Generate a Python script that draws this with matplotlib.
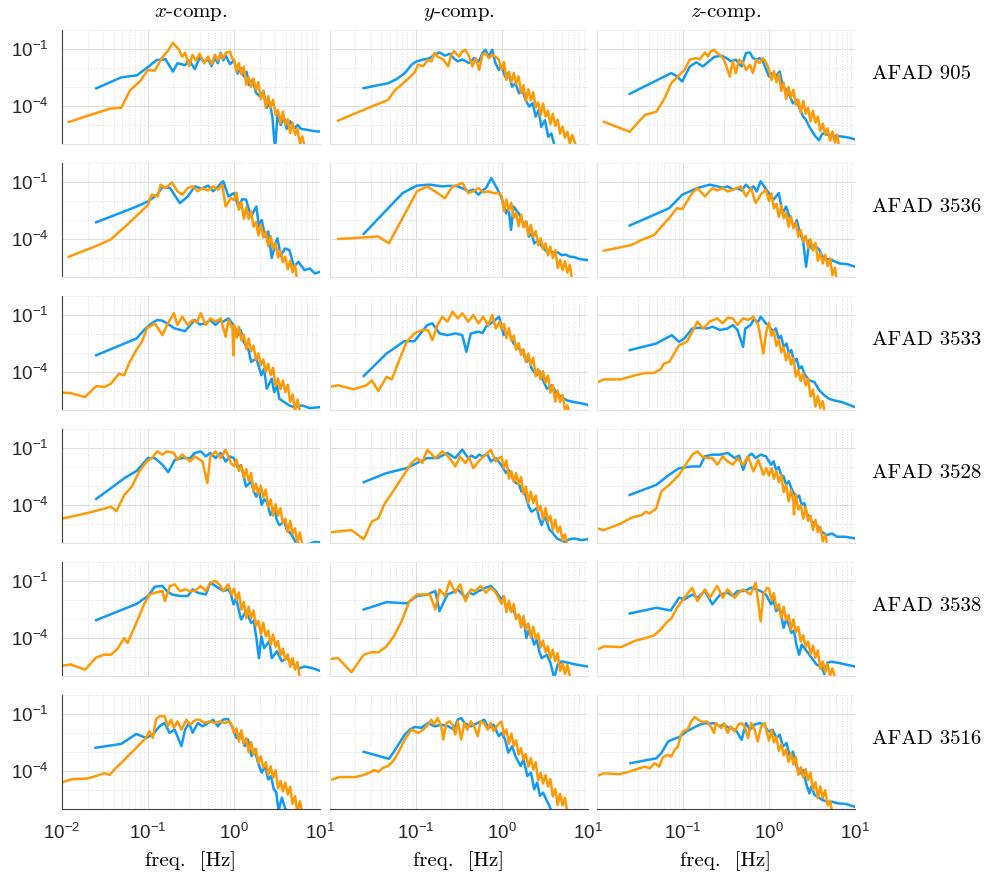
import numpy as np
import matplotlib.pyplot as plt
from matplotlib.ticker import FixedLocator, LogLocator, NullFormatter

plt.rcParams['font.family'] = ['Liberation Sans', 'DejaVu Sans']

BLUE = '#0f9af5'
ORANGE = '#ff9a05'
SERIF = 'cmr10'

stations = ["AFAD 905", "AFAD 3536", "AFAD 3533", "AFAD 3528", "AFAD 3538", "AFAD 3516"]
components = ["x", "y", "z"]
y_ticks = [1e-4, 1e-1]
y_tick_labels = [r'$\mathdefault{10^{-4}}$', r'$\mathdefault{10^{-1}}$']
x_ticks = [1e-2, 1e-1, 1e0, 1e1]
x_tick_labels = [r'$\mathdefault{10^{-2}}$', r'$\mathdefault{10^{-1}}$',
                 r'$\mathdefault{10^{0}}$', r'$\mathdefault{10^{1}}$']

# amplitude spectra as (frequency [Hz], log10 amplitude) pairs
# b_* : blue record, o_* : orange record
b_905_x = [(0.025,-3.07),(0.049,-2.49),(0.074,-2.39),(0.1,-1.95),(0.126,-1.58),(0.16,-1.54),(0.195,-2.19),(0.22,-1.75),(0.27,-1.85),(0.3,-1.6),(0.35,-2.05),(0.4,-1.45),(0.45,-1.7),(0.5,-1.55),(0.55,-1.9),(0.6,-1.45),(0.65,-1.75),(0.7,-1.2),(0.75,-1.6),(0.8,-1.35),(0.9,-1.8),(1.0,-1.6),(1.1,-2.3),(1.2,-2.0),(1.3,-2.45),(1.4,-2.2),(1.5,-2.9),(1.65,-2.6),(1.8,-3.3),(2.0,-3.5),(2.2,-3.2),(2.4,-4.1),(2.6,-3.8),(2.8,-4.6),(3.0,-6.3),(3.2,-4.5),(3.5,-5.0),(3.8,-4.6),(4.1,-5.2),(4.5,-4.8),(5.0,-5.2),(5.5,-5.0),(6.0,-5.2),(7.0,-5.25),(8.0,-5.3),(10.0,-5.35)]
o_905_x = [(0.012,-4.84),(0.036,-4.14),(0.049,-4.09),(0.062,-3.16),(0.08,-2.72),(0.1,-2.1),(0.12,-2.14),(0.144,-1.49),(0.17,-1.1),(0.195,-0.67),(0.23,-1.05),(0.25,-1.4),(0.27,-1.2),(0.3,-1.9),(0.33,-1.3),(0.36,-1.6),(0.4,-1.25),(0.45,-1.75),(0.5,-1.4),(0.55,-1.8),(0.6,-1.3),(0.65,-1.6),(0.7,-1.25),(0.75,-1.5),(0.8,-1.2),(0.9,-1.14),(0.95,-1.5),
           (1.0,-1.55),(1.07,-2.2),(1.14,-1.74),(1.22,-2.34),(1.3,-1.93),(1.39,-2.88),(1.48,-2.47),(1.58,-3.01),(1.69,-2.56),(1.8,-3.15),(1.92,-2.74),(2.05,-3.64),(2.19,-3.23),(2.34,-4.08),(2.5,-3.48),(2.67,-4.08),(2.85,-3.67),(3.04,-4.46),(3.25,-4.21),(3.47,-4.9),(3.7,-4.3),(3.95,-4.99),(4.22,-4.69),(4.5,-5.43),(4.8,-4.87),(5.13,-5.52),(5.47,-5.21),(5.84,-5.96),(6.23,-5.6),(6.65,-6.2),(7.0,-6.3)]
b_905_y = [(0.025,-3.06),(0.048,-2.8),(0.06,-2.59),(0.075,-2.27),(0.09,-1.83),(0.103,-1.65),(0.123,-1.56),(0.146,-1.48),(0.167,-1.3),(0.19,-1.18),(0.22,-1.35),(0.25,-1.25),(0.28,-1.5),(0.31,-1.65),(0.35,-1.55),(0.42,-1.74),(0.48,-1.48),(0.55,-1.65),(0.6,-1.21),(0.65,-1.04),(0.71,-1.4),(0.78,-1.04),(0.85,-1.75),(0.93,-2.1),(1.0,-1.9),(1.1,-2.45),(1.2,-2.25),(1.33,-2.98),(1.45,-2.8),(1.6,-3.33),(1.75,-3.15),(1.9,-3.68),(2.1,-4.03),(2.3,-3.85),(2.5,-4.56),(2.7,-4.2),(2.9,-5.1),(3.2,-4.75),(3.5,-5.62),(3.8,-5.45),(4.2,-6.2)]
o_905_y = [(0.0126,-4.77),(0.025,-4.2),(0.048,-3.68),(0.058,-3.15),(0.072,-2.8),(0.086,-2.48),(0.098,-2.23),(0.107,-1.83),(0.123,-1.9),(0.14,-1.56),(0.153,-1.65),(0.167,-1.21),(0.18,-1.4),(0.21,-1.55),(0.24,-1.92),(0.26,-1.3),(0.28,-1.12),(0.32,-1.4),(0.35,-1.12),(0.38,-1.04),(0.42,-1.4),(0.46,-1.92),(0.5,-1.48),(0.55,-2.1),(0.6,-1.3),(0.65,-1.2),(0.71,-1.48),(0.78,-1.3),(0.85,-1.4),(0.93,-1.55),
           (1.0,-2.1),(1.07,-1.69),(1.14,-2.62),(1.22,-2.2),(1.3,-2.74),(1.39,-2.27),(1.48,-2.85),(1.58,-2.44),(1.69,-3.32),(1.8,-2.9),(1.92,-3.73),(2.05,-3.12),(2.19,-3.7),(2.34,-3.28),(2.5,-4.07),(2.67,-3.81),(2.85,-4.49),(3.04,-3.87),(3.25,-4.56),(3.47,-4.24),(3.7,-4.97),(3.95,-4.41),(4.22,-5.04),(4.5,-4.72),(4.8,-5.45),(5.13,-5.09),(5.47,-5.67),(5.84,-5.35),(6.23,-5.99),(6.65,-5.52),(7.1,-5.9),(7.5,-6.2)]
b_905_z = [(0.024,-3.36),(0.073,-2.27),(0.083,-2.4),(0.098,-2.71),(0.12,-1.92),(0.143,-1.7),(0.17,-1.92),(0.2,-1.65),(0.23,-1.42),(0.28,-1.35),(0.32,-1.48),(0.36,-1.65),(0.41,-1.56),(0.48,-1.92),(0.54,-1.21),(0.6,-1.18),(0.65,-1.48),(0.71,-1.56),(0.78,-1.48),(0.85,-1.65),(0.93,-2.1),(1.0,-2.45),(1.1,-2.27),(1.2,-2.45),(1.33,-2.18),(1.45,-2.98),(1.6,-3.15),(1.75,-3.5),(1.9,-3.86),(2.1,-3.68),(2.3,-4.2),(2.5,-4.56),(2.7,-4.74),(2.95,-5.1),(3.2,-5.36),(3.5,-5.62),(3.8,-5.8),(4.2,-5.44),(5.0,-5.53),(6.1,-5.58),(7.4,-5.62),(8.6,-5.67),(10.0,-5.76)]
o_905_z = [(0.012,-4.83),(0.024,-5.36),(0.036,-4.47),(0.049,-4.3),(0.061,-3.6),(0.073,-2.8),(0.087,-2.45),(0.104,-2.1),(0.12,-1.56),(0.143,-1.48),(0.156,-1.56),(0.18,-1.18),(0.195,-1.4),(0.21,-1.12),(0.23,-1.04),(0.25,-1.22),(0.28,-1.4),(0.3,-1.56),(0.35,-2.45),(0.38,-1.65),(0.41,-2.27),(0.45,-1.56),(0.5,-1.74),(0.54,-2.1),(0.6,-1.83),(0.65,-2.27),(0.71,-1.56),(0.78,-1.74),(0.85,-1.48),(0.93,-1.74),
           (1.0,-2.1),(1.07,-2.63),(1.14,-2.16),(1.22,-2.75),(1.3,-2.32),(1.39,-3.21),(1.48,-2.78),(1.58,-3.62),(1.69,-3.0),(1.8,-3.57),(1.92,-3.15),(2.05,-3.94),(2.19,-3.66),(2.34,-4.35),(2.5,-3.73),(2.67,-4.41),(2.85,-4.09),(3.04,-4.82),(3.25,-4.26),(3.47,-4.88),(3.7,-4.56),(3.95,-5.3),(4.22,-4.93),(4.5,-5.5),(4.8,-5.18),(5.13,-5.82),(5.47,-5.34),(5.84,-5.92),(6.23,-5.51),(6.65,-6.44)]

b_3536_x = [(0.025,-3.12),(0.074,-2.29),(0.1,-2.02),(0.128,-1.67),(0.147,-1.26),(0.18,-1.32),(0.235,-2.11),(0.29,-1.76),(0.35,-1.23),(0.42,-1.35),(0.5,-1.19),(0.57,-1.49),(0.65,-1.25),(0.71,-1.05),(0.75,-0.96),(0.86,-1.76),(1.0,-1.58),(1.12,-2.29),(1.25,-1.9),(1.38,-1.93),(1.58,-2.82),(1.82,-2.29),(1.95,-3.35),(2.1,-3.0),(2.3,-3.9),(2.5,-3.6),(2.75,-5.0),(3.0,-4.3),(3.2,-3.96),(3.5,-4.9),(3.9,-4.5),(4.4,-4.58),(5.0,-5.46),(5.6,-5.2),(6.6,-5.64),(7.6,-5.55),(8.7,-5.81),(10.0,-5.73)]
o_3536_x = [(0.012,-4.93),(0.025,-4.37),(0.037,-4.02),(0.06,-3.17),(0.1,-2.2),(0.11,-1.67),(0.13,-1.76),(0.14,-1.14),(0.16,-1.32),(0.19,-1.02),(0.22,-1.49),(0.25,-1.67),(0.29,-1.32),(0.33,-1.23),(0.38,-1.49),(0.43,-1.32),(0.5,-1.45),(0.57,-1.23),(0.65,-1.4),(0.73,-1.14),(0.8,-2.29),(0.92,-1.85),
            (1.0,-1.95),(1.07,-1.56),(1.14,-2.46),(1.22,-2.07),(1.3,-2.93),(1.39,-2.34),(1.48,-2.94),(1.58,-2.54),(1.69,-3.35),(1.8,-3.1),(1.92,-3.81),(2.05,-3.22),(2.19,-3.92),(2.34,-3.63),(2.5,-4.39),(2.67,-3.85),(2.85,-4.5),(3.04,-4.21),(3.25,-4.97),(3.47,-4.62),(3.7,-5.22),(3.95,-4.93),(4.22,-5.59),(4.5,-5.14),(4.8,-5.75),(5.13,-5.36),(5.47,-6.31),(5.84,-6.2)]
b_3536_y = [(0.025,-3.73),(0.071,-1.58),(0.104,-1.19),(0.147,-1.14),(0.205,-1.23),(0.25,-1.2),(0.31,-1.23),(0.36,-1.35),(0.41,-1.49),(0.47,-1.4),(0.54,-1.67),(0.6,-1.45),(0.66,-1.32),(0.76,-0.79),(0.86,-1.23),(0.99,-1.76),(1.13,-2.64),(1.21,-2.38),(1.29,-3.52),(1.38,-2.29),(1.58,-2.64),(1.7,-2.9),(1.82,-3.35),(1.95,-3.1),(2.08,-3.87),(2.25,-3.7),(2.4,-4.23),(2.65,-4.1),(2.95,-4.4),(3.37,-4.67),(3.7,-4.6),(4.1,-4.76),(4.5,-4.7),(5.0,-4.85),(5.6,-4.82),(6.2,-4.93),(7.0,-4.95),(8.0,-5.05),(10.0,-5.11)]
o_3536_y = [(0.0126,-4.0),(0.037,-3.87),(0.049,-4.23),(0.069,-2.99),(0.104,-1.49),(0.137,-1.23),(0.18,-1.58),(0.22,-1.85),(0.27,-1.23),(0.31,-1.15),(0.35,-1.05),(0.41,-1.58),(0.47,-1.49),(0.54,-1.32),(0.62,-1.55),(0.7,-1.49),(0.8,-1.58),(0.92,-1.58),
            (1.0,-1.7),(1.07,-2.54),(1.14,-1.93),(1.22,-2.52),(1.3,-2.1),(1.39,-2.89),(1.48,-2.62),(1.58,-3.32),(1.69,-2.71),(1.8,-3.39),(1.92,-3.07),(2.05,-3.81),(2.19,-3.25),(2.34,-3.89),(2.5,-3.58),(2.67,-4.32),(2.85,-3.96),(3.04,-4.54),(3.25,-4.23),(3.47,-4.87),(3.7,-4.4),(3.95,-5.0),(4.22,-4.58),(4.5,-5.52),(4.8,-5.1),(5.13,-5.64),(5.47,-5.18),(5.84,-5.77),(6.23,-5.36),(6.65,-6.24)]
b_3536_z = [(0.024,-3.29),(0.069,-2.38),(0.098,-1.67),(0.147,-1.32),(0.205,-1.14),(0.25,-1.23),(0.29,-1.3),(0.33,-1.23),(0.38,-1.4),(0.43,-1.32),(0.48,-1.45),(0.54,-1.14),(0.6,-1.35),(0.66,-1.23),(0.72,-1.5),(0.8,-0.96),(0.9,-1.3),(0.99,-1.58),(1.13,-1.93),(1.3,-1.58),(1.44,-2.64),(1.58,-2.29),(1.75,-2.9),(1.95,-3.35),(2.1,-3.0),(2.24,-3.52),(2.5,-4.14),(2.7,-5.46),(2.95,-4.05),(3.15,-4.5),(3.37,-4.32),(3.86,-4.58),(4.1,-4.85),(4.4,-5.02),(5.4,-5.11),(6.6,-5.29),(8.1,-5.32),(10.0,-5.46)]
o_3536_z = [(0.012,-4.62),(0.025,-4.32),(0.033,-4.05),(0.046,-3.79),(0.069,-2.9),(0.085,-2.38),(0.098,-2.43),(0.128,-1.58),(0.147,-1.32),(0.18,-1.76),(0.22,-1.32),(0.25,-1.45),(0.29,-1.32),(0.33,-1.5),(0.38,-1.41),(0.47,-1.23),(0.54,-1.76),(0.62,-1.32),(0.7,-2.11),(0.8,-1.67),(0.92,-1.41),
            (1.0,-2.0),(1.07,-1.6),(1.14,-2.39),(1.22,-2.14),(1.3,-2.83),(1.39,-2.23),(1.48,-2.92),(1.58,-2.61),(1.69,-3.36),(1.8,-2.8),(1.92,-3.44),(2.05,-3.14),(2.19,-3.88),(2.34,-3.53),(2.5,-4.13),(2.67,-3.83),(2.85,-4.47),(3.04,-4.01),(3.25,-4.61),(3.47,-4.2),(3.7,-5.15),(3.95,-4.74),(4.22,-5.29),(4.5,-4.83),(4.8,-5.42),(5.13,-5.02),(5.47,-5.91),(5.84,-5.51),(6.23,-6.35)]

b_3533_x = [(0.025,-3.12),(0.074,-2.23),(0.09,-1.79),(0.11,-1.44),(0.128,-1.26),(0.147,-1.3),(0.166,-1.44),(0.205,-1.71),(0.27,-1.85),(0.31,-1.53),(0.35,-1.26),(0.4,-1.5),(0.47,-1.44),(0.53,-1.26),(0.61,-1.53),(0.68,-1.3),(0.75,-1.35),(0.86,-1.18),(0.99,-1.53),(1.12,-2.06),(1.2,-1.8),(1.29,-2.41),(1.48,-2.85),(1.58,-3.47),(1.82,-3.29),(2.08,-4.17),(2.24,-3.82),(2.4,-4.88),(2.75,-4.35),(2.93,-5.06),(3.15,-4.7),(3.37,-5.41),(3.86,-5.59),(4.4,-5.76),(5.0,-5.85),(6.2,-5.76),(7.6,-5.9),(10.0,-5.85)]
o_3533_x = [(0.01,-5.09),(0.0126,-5.11),(0.0185,-5.32),(0.025,-4.74),(0.031,-4.79),(0.037,-4.62),(0.046,-4.09),(0.053,-4.17),(0.06,-3.56),(0.073,-2.85),(0.085,-2.41),(0.097,-1.71),(0.12,-1.44),(0.147,-2.06),(0.166,-1.53),(0.2,-0.91),(0.22,-1.53),(0.25,-1.09),(0.29,-1.53),(0.33,-1.26),(0.37,-1.4),(0.41,-0.91),(0.47,-1.53),(0.53,-1.18),(0.61,-1.35),(0.7,-1.18),(0.8,-2.15),(0.86,-1.26),(0.96,-1.71),(0.985,-3.12),
            (1.0,-1.5),(1.07,-2.21),(1.14,-1.62),(1.22,-2.33),(1.3,-2.03),(1.39,-2.79),(1.48,-2.24),(1.58,-2.9),(1.69,-2.62),(1.8,-3.37),(1.92,-3.02),(2.05,-3.63),(2.19,-3.34),(2.34,-4.0),(2.5,-3.56),(2.67,-4.17),(2.85,-3.78),(3.04,-4.73),(3.25,-4.34),(3.47,-4.9),(3.7,-4.45),(3.95,-5.06),(4.22,-4.67),(4.5,-5.57),(4.8,-5.18),(5.13,-6.04),(5.47,-5.45),(5.84,-6.05),(6.2,-6.2)]
b_3533_y = [(0.025,-4.21),(0.046,-3.03),(0.074,-2.38),(0.097,-2.38),(0.137,-1.53),(0.157,-1.44),(0.19,-1.97),(0.235,-2.06),(0.29,-1.97),(0.35,-2.06),(0.39,-2.94),(0.44,-1.97),(0.54,-1.88),(0.6,-1.95),(0.66,-1.62),(0.8,-1.35),(0.94,-1.09),(1.06,-2.06),(1.21,-1.88),(1.38,-2.5),(1.58,-2.76),(1.75,-2.9),(1.95,-3.47),(2.1,-3.3),(2.24,-3.82),(2.57,-4.17),(2.75,-3.95),(2.93,-4.26),(3.37,-4.88),(3.86,-4.7),(4.4,-5.14),(5.0,-5.32),(5.8,-5.5),(7.1,-5.59),(8.5,-5.65),(10.0,-5.73)]
o_3533_y = [(0.01,-4.79),(0.0126,-4.7),(0.019,-4.91),(0.027,-4.7),(0.031,-4.44),(0.037,-5.0),(0.046,-4.26),(0.053,-4.39),(0.067,-3.2),(0.079,-2.41),(0.097,-1.97),(0.12,-1.79),(0.14,-1.79),(0.157,-2.32),(0.18,-1.53),(0.205,-1.09),(0.235,-1.35),(0.27,-0.82),(0.31,-1.18),(0.35,-0.91),(0.41,-1.35),(0.47,-1.0),(0.54,-1.44),(0.61,-1.09),(0.7,-1.53),(0.78,-1.0),(0.86,-1.71),(0.95,-1.35),
            (1.0,-1.75),(1.07,-1.47),(1.14,-2.22),(1.22,-1.69),(1.3,-2.35),(1.39,-2.07),(1.48,-2.82),(1.58,-2.48),(1.69,-3.1),(1.8,-2.8),(1.92,-3.46),(2.05,-3.03),(2.19,-3.64),(2.34,-3.25),(2.5,-4.22),(2.67,-3.83),(2.85,-4.39),(3.04,-3.95),(3.25,-4.57),(3.47,-4.18),(3.7,-5.09),(3.95,-4.7),(4.22,-5.56),(4.5,-4.97),(4.8,-5.58),(5.13,-5.2),(5.47,-6.01),(5.84,-5.77),(6.2,-6.2)]
b_3533_z = [(0.024,-2.85),(0.049,-2.5),(0.074,-2.06),(0.09,-2.41),(0.104,-2.23),(0.128,-1.71),(0.157,-1.67),(0.19,-1.71),(0.22,-1.62),(0.27,-1.79),(0.33,-1.71),(0.38,-1.53),(0.43,-1.79),(0.5,-2.68),(0.53,-1.71),(0.61,-1.53),(0.66,-1.26),(0.75,-1.35),(0.8,-1.09),(0.92,-1.44),(0.98,-1.53),(1.12,-1.88),(1.2,-1.7),(1.29,-2.23),(1.38,-2.1),(1.48,-2.68),(1.6,-2.5),(1.7,-3.03),(1.82,-2.85),(1.95,-3.47),(2.1,-3.3),(2.24,-3.82),(2.4,-3.7),(2.57,-4.09),(2.93,-4.44),(3.37,-4.53),(3.86,-4.97),(4.4,-5.23),(5.0,-5.41),(5.8,-5.5),(7.1,-5.59),(10.0,-5.85)]
o_3533_z = [(0.01,-4.56),(0.012,-4.39),(0.019,-4.39),(0.028,-4.17),(0.037,-4.05),(0.046,-4.05),(0.055,-3.86),(0.06,-3.56),(0.069,-3.47),(0.079,-3.03),(0.09,-2.59),(0.111,-2.41),(0.128,-1.88),(0.147,-1.35),(0.172,-1.71),(0.205,-1.35),(0.25,-1.18),(0.29,-1.44),(0.33,-1.14),(0.38,-1.18),(0.43,-1.53),(0.5,-1.18),(0.57,-1.26),(0.66,-1.09),(0.75,-1.53),(0.86,-3.03),(0.92,-1.97),
            (1.0,-1.4),(1.07,-2.09),(1.14,-1.83),(1.22,-2.63),(1.3,-2.31),(1.39,-2.96),(1.48,-2.69),(1.58,-3.38),(1.69,-2.98),(1.8,-3.61),(1.92,-3.25),(2.05,-4.24),(2.19,-3.88),(2.34,-4.47),(2.5,-4.07),(2.67,-4.71),(2.85,-4.35),(3.04,-5.29),(3.25,-4.93),(3.47,-5.82),(3.7,-5.26),(3.95,-5.9),(4.22,-5.54),(4.5,-6.38)]

b_3528_x = [(0.025,-3.68),(0.037,-3.12),(0.053,-2.59),(0.074,-2.2),(0.1,-1.53),(0.12,-1.53),(0.147,-1.88),(0.172,-2.27),(0.205,-1.62),(0.25,-1.53),(0.31,-1.53),(0.35,-1.26),(0.41,-1.18),(0.47,-1.44),(0.53,-1.26),(0.61,-1.53),(0.7,-1.26),(0.8,-1.71),(0.9,-1.45),(0.99,-1.53),(1.12,-2.06),(1.2,-1.9),(1.29,-2.41),(1.38,-3.03),(1.58,-2.76),(1.7,-3.3),(1.82,-3.56),(1.95,-3.2),(2.1,-4.0),(2.24,-3.7),(2.4,-3.82),(2.65,-4.53),(2.93,-4.17),(3.15,-4.8),(3.37,-5.06),(3.86,-4.88),(4.1,-5.3),(4.4,-5.41),(4.7,-5.59),(5.2,-5.94),(6.0,-6.1),(7.5,-6.05),(8.7,-5.94),(10.0,-5.97)]
o_3528_x = [(0.01,-4.72),(0.019,-4.44),(0.029,-4.23),(0.037,-4.09),(0.043,-4.32),(0.053,-3.47),(0.065,-3.03),(0.079,-2.23),(0.097,-1.71),(0.111,-1.53),(0.128,-1.18),(0.147,-1.35),(0.166,-1.18),(0.2,-1.26),(0.22,-1.62),(0.25,-1.35),(0.28,-1.55),(0.31,-1.71),(0.35,-1.44),(0.43,-1.71),(0.49,-2.85),(0.53,-1.44),(0.61,-1.18),(0.7,-1.53),(0.8,-1.09),(0.92,-1.79),
            (1.0,-1.95),(1.07,-1.61),(1.14,-2.21),(1.22,-1.91),(1.3,-2.57),(1.39,-2.12),(1.48,-2.72),(1.58,-2.32),(1.69,-3.28),(1.8,-2.88),(1.92,-3.43),(2.05,-2.98),(2.19,-3.59),(2.34,-3.19),(2.5,-4.1),(2.67,-3.71),(2.85,-4.56),(3.04,-3.96),(3.25,-4.56),(3.47,-4.17),(3.7,-4.97),(3.95,-4.72),(4.22,-5.43),(4.5,-4.83),(4.8,-5.53),(5.13,-5.23),(5.47,-5.99),(5.84,-5.44),(6.23,-6.09),(6.65,-6.2)]
b_3528_y = [(0.025,-2.8),(0.046,-2.32),(0.079,-2.06),(0.104,-1.79),(0.137,-1.53),(0.18,-1.53),(0.235,-1.26),(0.29,-1.53),(0.35,-1.09),(0.41,-1.53),(0.45,-1.4),(0.5,-1.53),(0.55,-1.35),(0.61,-1.44),(0.68,-1.3),(0.75,-1.71),(0.86,-1.53),(0.99,-1.88),(1.13,-2.32),(1.21,-2.15),(1.29,-2.41),(1.38,-2.7),(1.48,-2.85),(1.6,-2.9),(1.7,-3.29),(1.82,-3.2),(1.95,-3.65),(2.08,-4.09),(2.24,-4.35),(2.57,-4.17),(2.75,-4.7),(2.93,-5.06),(3.15,-4.6),(3.37,-4.88),(3.6,-5.3),(3.86,-5.41),(4.4,-5.76),(5.4,-5.94),(6.2,-5.8),(7.1,-5.76),(8.5,-5.85),(10.0,-5.8)]
o_3528_y = [(0.01,-5.44),(0.018,-5.32),(0.025,-5.8),(0.031,-4.88),(0.037,-4.7),(0.043,-4.0),(0.053,-3.38),(0.069,-2.59),(0.09,-1.79),(0.104,-1.53),(0.12,-1.79),(0.137,-1.09),(0.17,-1.53),(0.205,-1.18),(0.25,-1.53),(0.29,-1.97),(0.33,-1.44),(0.38,-1.79),(0.42,-1.5),(0.47,-2.06),(0.54,-1.71),(0.6,-1.5),(0.66,-1.35),(0.75,-1.09),(0.86,-1.71),(0.94,-1.53),
            (1.0,-1.45),(1.07,-2.06),(1.14,-1.66),(1.22,-2.61),(1.3,-2.22),(1.39,-2.77),(1.48,-2.32),(1.58,-2.92),(1.69,-2.53),(1.8,-3.43),(1.92,-3.03),(2.05,-3.88),(2.19,-3.29),(2.34,-3.89),(2.5,-3.5),(2.67,-4.31),(2.85,-4.06),(3.04,-4.76),(3.25,-4.16),(3.47,-4.87),(3.7,-4.57),(3.95,-5.32),(4.22,-4.78),(4.5,-5.43),(4.8,-5.13),(5.13,-5.88),(5.47,-5.54),(5.84,-6.14)]
b_3528_z = [(0.024,-3.47),(0.049,-2.94),(0.069,-2.41),(0.09,-2.06),(0.128,-1.97),(0.157,-1.97),(0.18,-1.44),(0.22,-1.35),(0.27,-1.35),(0.33,-1.26),(0.4,-1.53),(0.45,-1.4),(0.5,-2.15),(0.57,-1.44),(0.63,-1.3),(0.7,-1.53),(0.8,-1.35),(0.92,-1.44),(1.06,-1.88),(1.13,-1.7),(1.21,-2.15),(1.3,-2.0),(1.38,-2.41),(1.48,-2.5),(1.58,-2.94),(1.7,-2.75),(1.82,-3.12),(1.95,-3.4),(2.08,-3.65),(2.24,-3.5),(2.4,-4.0),(2.57,-3.9),(2.75,-4.44),(3.15,-4.88),(3.6,-5.06),(4.1,-5.41),(4.7,-5.59),(5.4,-5.5),(6.2,-5.67),(7.6,-5.67),(10.0,-5.76)]
o_3528_z = [(0.01,-5.23),(0.012,-5.32),(0.019,-4.97),(0.025,-4.67),(0.033,-4.53),(0.037,-4.35),(0.041,-4.44),(0.049,-4.17),(0.056,-3.29),(0.069,-2.94),(0.079,-2.68),(0.09,-2.41),(0.111,-1.79),(0.128,-1.35),(0.147,-1.18),(0.166,-1.44),(0.19,-1.53),(0.22,-1.53),(0.25,-1.88),(0.29,-1.44),(0.33,-1.71),(0.38,-1.88),(0.43,-1.53),(0.5,-1.88),(0.57,-1.44),(0.66,-2.23),(0.75,-1.62),(0.86,-2.41),(0.93,-2.06),
            (1.0,-2.45),(1.07,-2.07),(1.14,-2.62),(1.22,-2.19),(1.3,-2.8),(1.39,-2.42),(1.48,-3.32),(1.58,-2.93),(1.69,-3.8),(1.8,-3.2),(1.92,-3.81),(1.95,-4.5),(2.05,-3.43),(2.19,-4.24),(2.34,-4.0),(2.5,-4.72),(2.67,-4.13),(2.85,-4.84),(3.04,-4.55),(3.25,-5.32),(3.47,-4.78),(3.7,-5.44),(3.95,-5.15),(4.22,-5.91),(4.5,-5.57),(4.8,-6.18)]

b_3538_x = [(0.025,-3.06),(0.074,-2.2),(0.1,-1.79),(0.12,-1.3),(0.147,-1.26),(0.166,-1.53),(0.19,-1.71),(0.235,-1.79),(0.29,-1.79),(0.33,-1.44),(0.38,-1.62),(0.47,-1.71),(0.53,-1.09),(0.61,-1.26),(0.68,-1.4),(0.75,-1.53),(0.86,-1.44),(0.92,-1.7),(0.99,-2.23),(1.06,-1.9),(1.12,-2.41),(1.21,-3.03),(1.38,-2.59),(1.58,-3.2),(1.7,-3.1),(1.82,-4.0),(1.95,-5.06),(2.08,-3.91),(2.24,-4.53),(2.57,-4.17),(2.75,-5.06),(3.15,-4.7),(3.6,-5.23),(4.1,-5.06),(5.0,-5.41),(5.8,-5.59),(6.6,-5.5),(8.2,-5.59),(10.0,-5.73)]
o_3538_x = [(0.01,-5.46),(0.0126,-5.39),(0.0185,-5.67),(0.025,-5.02),(0.031,-4.88),(0.037,-4.88),(0.044,-4.58),(0.053,-4.0),(0.058,-4.26),(0.069,-3.47),(0.079,-2.85),(0.09,-2.23),(0.104,-1.71),(0.12,-1.62),(0.147,-1.53),(0.157,-2.06),(0.18,-1.26),(0.205,-1.18),(0.235,-1.53),(0.27,-1.44),(0.31,-1.53),(0.35,-1.53),(0.41,-1.26),(0.47,-1.53),(0.53,-1.09),(0.61,-1.0),(0.7,-1.26),(0.75,-1.53),(0.86,-1.18),(0.93,-1.71),
            (1.0,-1.4),(1.07,-2.0),(1.14,-1.6),(1.22,-2.51),(1.3,-2.1),(1.39,-2.96),(1.48,-2.35),(1.58,-2.95),(1.69,-2.56),(1.8,-3.35),(1.92,-3.1),(2.05,-3.8),(2.19,-3.2),(2.34,-3.91),(2.5,-3.61),(2.67,-4.36),(2.85,-3.81),(3.04,-4.46),(3.25,-4.16),(3.47,-4.91),(3.7,-4.56),(3.95,-5.16),(4.22,-4.86),(4.5,-5.51),(4.8,-5.06),(5.13,-5.66),(5.47,-5.26),(5.84,-6.21)]
b_3538_y = [(0.025,-2.5),(0.046,-2.11),(0.079,-2.18),(0.104,-1.79),(0.137,-1.71),(0.17,-1.53),(0.19,-2.59),(0.235,-1.71),(0.27,-1.6),(0.31,-1.44),(0.38,-1.88),(0.42,-1.6),(0.47,-1.71),(0.54,-1.53),(0.6,-1.45),(0.66,-1.35),(0.75,-1.26),(0.86,-1.53),(0.99,-1.97),(1.06,-1.8),(1.13,-2.41),(1.21,-2.2),(1.29,-2.59),(1.38,-2.5),(1.48,-2.94),(1.6,-2.8),(1.7,-3.29),(1.82,-3.1),(1.95,-4.0),(2.08,-3.56),(2.24,-3.9),(2.4,-4.35),(2.57,-4.1),(2.75,-4.7),(2.93,-5.06),(3.37,-4.88),(3.7,-5.3),(4.1,-6.1),(4.5,-5.4),(5.0,-5.23),(6.2,-5.32),(7.6,-5.41),(10.0,-5.5)]
o_3538_y = [(0.01,-5.11),(0.0126,-5.06),(0.018,-5.8),(0.025,-4.88),(0.031,-4.74),(0.037,-4.76),(0.046,-4.44),(0.056,-3.91),(0.069,-3.12),(0.085,-2.06),(0.104,-1.71),(0.128,-1.71),(0.147,-1.71),(0.17,-2.5),(0.19,-1.44),(0.22,-1.79),(0.25,-1.0),(0.29,-1.62),(0.33,-1.18),(0.38,-2.06),(0.44,-1.44),(0.5,-1.53),(0.57,-1.26),(0.66,-1.62),(0.75,-1.35),(0.86,-1.62),
            (1.0,-2.2),(1.07,-1.8),(1.14,-2.64),(1.22,-2.03),(1.3,-2.63),(1.39,-2.22),(1.48,-3.01),(1.58,-2.75),(1.69,-3.45),(1.8,-2.84),(1.92,-3.53),(2.05,-3.23),(2.19,-3.97),(2.34,-3.41),(2.5,-4.06),(2.67,-3.76),(2.85,-4.5),(3.04,-4.14),(3.25,-4.74),(3.47,-4.43),(3.7,-5.07),(3.95,-4.61),(4.22,-5.21),(4.5,-4.8),(4.8,-5.74),(5.13,-5.34),(5.47,-5.88),(5.84,-5.42),(6.23,-6.01),(6.65,-6.1)]
b_3538_z = [(0.024,-2.71),(0.049,-2.41),(0.072,-2.55),(0.09,-1.88),(0.104,-1.97),(0.128,-1.71),(0.147,-1.88),(0.18,-1.53),(0.22,-2.23),(0.27,-1.71),(0.33,-1.62),(0.38,-1.79),(0.43,-1.53),(0.5,-1.53),(0.57,-1.44),(0.63,-1.35),(0.7,-1.44),(0.8,-1.53),(0.92,-1.71),(1.06,-2.23),(1.13,-2.0),(1.21,-2.59),(1.3,-2.4),(1.38,-2.76),(1.48,-3.47),(1.58,-3.03),(1.7,-3.3),(1.82,-3.73),(1.95,-3.6),(2.08,-4.35),(2.24,-4.88),(2.4,-4.35),(2.75,-4.7),(3.15,-5.06),(3.6,-5.41),(4.1,-5.5),(4.4,-5.9),(4.8,-5.3),(5.3,-5.25),(6.6,-5.32),(8.1,-5.41),(10.0,-5.5)]
o_3538_z = [(0.01,-4.62),(0.012,-4.44),(0.019,-4.48),(0.028,-4.14),(0.037,-4.0),(0.046,-3.86),(0.055,-3.56),(0.064,-3.2),(0.074,-2.94),(0.085,-2.41),(0.097,-2.06),(0.111,-1.71),(0.128,-1.35),(0.147,-2.06),(0.18,-1.44),(0.205,-1.88),(0.25,-1.26),(0.29,-1.88),(0.33,-1.44),(0.4,-1.88),(0.45,-1.6),(0.5,-1.44),(0.61,-1.71),(0.7,-1.09),(0.8,-3.12),(0.86,-1.71),(0.95,-1.35),
            (1.0,-1.4),(1.07,-2.02),(1.14,-1.64),(1.22,-2.46),(1.3,-2.22),(1.39,-2.94),(1.48,-2.35),(1.58,-3.07),(1.69,-2.79),(1.8,-3.55),(1.92,-3.02),(2.05,-3.69),(2.19,-3.41),(2.34,-4.18),(2.5,-3.85),(2.67,-4.47),(2.85,-4.18),(3.04,-4.85),(3.25,-4.42),(3.47,-5.04),(3.7,-4.65),(3.95,-5.62),(4.22,-5.24),(4.5,-5.8),(4.8,-5.37),(5.13,-5.99),(5.47,-5.6),(5.84,-6.1)]

b_3516_x = [(0.0245,-2.78),(0.049,-2.57),(0.073,-2.05),(0.095,-2.26),(0.114,-2.08),(0.136,-1.65),(0.156,-1.47),(0.178,-1.99),(0.204,-1.82),(0.245,-2.69),(0.27,-1.82),(0.3,-1.47),(0.33,-1.99),(0.38,-1.47),(0.43,-1.65),(0.5,-1.47),(0.57,-1.3),(0.65,-1.65),(0.74,-1.3),(0.85,-1.26),(0.93,-1.56),(1.07,-2.26),(1.2,-1.99),(1.33,-2.69),(1.45,-2.34),(1.6,-3.22),(1.75,-2.87),(1.9,-3.57),(2.1,-4.09),(2.3,-3.74),(2.5,-4.44),(2.7,-4.26),(2.9,-4.96),(3.1,-5.14),(3.3,-6.1),(3.6,-5.4),(3.9,-5.92),(4.1,-6.1)]
o_3516_x = [(0.01,-4.61),(0.0127,-4.44),(0.02,-4.39),(0.025,-4.26),(0.031,-4.12),(0.036,-4.2),(0.041,-3.91),(0.049,-3.57),(0.061,-3.13),(0.07,-2.87),(0.083,-2.52),(0.095,-2.26),(0.104,-1.91),(0.114,-2.26),(0.124,-1.26),(0.137,-1.12),(0.156,-1.12),(0.17,-1.65),(0.186,-1.3),(0.2,-1.73),(0.22,-1.39),(0.245,-1.82),(0.28,-1.3),(0.31,-1.56),(0.36,-1.3),(0.4,-1.3),(0.45,-1.47),(0.52,-1.39),(0.6,-1.47),(0.68,-1.39),(0.78,-1.47),(0.89,-1.39),(0.95,-1.65),
            (1.0,-2.0),(1.07,-1.76),(1.14,-2.46),(1.22,-1.86),(1.3,-2.57),(1.39,-2.27),(1.48,-3.02),(1.58,-2.47),(1.69,-3.13),(1.8,-2.83),(1.92,-3.58),(2.05,-3.23),(2.19,-3.84),(2.34,-3.54),(2.5,-4.2),(2.67,-3.76),(2.85,-4.36),(3.04,-3.96),(3.25,-4.91),(3.47,-4.52),(3.7,-5.07),(3.95,-4.62),(4.22,-5.23),(4.5,-4.83),(4.8,-5.73),(5.13,-5.33),(5.47,-6.19),(5.84,-5.59),(6.23,-6.19)]
b_3516_y = [(0.025,-2.99),(0.049,-3.36),(0.055,-3.04),(0.06,-2.78),(0.075,-2.08),(0.086,-1.82),(0.098,-1.68),(0.117,-1.73),(0.14,-1.47),(0.167,-1.65),(0.2,-1.56),(0.24,-1.65),(0.28,-1.82),(0.31,-1.3),(0.34,-1.21),(0.37,-1.47),(0.44,-1.65),(0.53,-1.47),(0.63,-1.3),(0.71,-1.73),(0.81,-1.56),(0.93,-2.17),(1.0,-2.0),(1.1,-2.34),(1.2,-3.04),(1.33,-2.69),(1.45,-3.22),(1.67,-3.74),(1.8,-3.39),(2.0,-4.26),(2.2,-4.09),(2.4,-4.96),(2.6,-4.61),(2.8,-5.31),(3.05,-5.14),(3.3,-5.48),(3.6,-5.83),(3.8,-6.1)]
o_3516_y = [(0.0104,-4.47),(0.013,-4.32),(0.02,-4.32),(0.024,-4.23),(0.029,-4.09),(0.033,-3.95),(0.037,-4.05),(0.042,-3.83),(0.048,-3.74),(0.055,-3.48),(0.063,-3.04),(0.075,-2.34),(0.09,-1.82),(0.108,-2.0),(0.123,-1.82),(0.14,-1.56),(0.153,-1.3),(0.165,-1.56),(0.18,-1.21),(0.2,-1.65),(0.21,-2.34),(0.23,-1.47),(0.25,-1.39),(0.27,-1.56),(0.29,-2.08),(0.31,-1.39),(0.34,-2.34),(0.37,-1.47),(0.4,-1.82),(0.44,-1.39),(0.48,-1.65),(0.53,-2.17),(0.57,-1.39),(0.63,-1.47),(0.69,-1.82),(0.75,-1.47),(0.81,-1.91),(0.88,-1.65),(0.95,-1.47),
            (1.0,-1.4),(1.07,-2.11),(1.14,-1.81),(1.22,-2.57),(1.3,-2.03),(1.39,-2.69),(1.48,-2.39),(1.58,-3.14),(1.69,-2.8),(1.8,-3.4),(1.92,-3.11),(2.05,-3.77),(2.19,-3.32),(2.34,-3.93),(2.5,-3.54),(2.67,-4.5),(2.85,-4.1),(3.04,-4.66),(3.25,-4.22),(3.47,-4.82),(3.7,-4.42),(3.95,-5.33),(4.22,-4.94),(4.5,-5.79),(4.8,-5.2),(5.13,-5.81),(5.47,-5.41),(5.84,-6.21)]
b_3516_z = [(0.0245,-3.59),(0.049,-3.33),(0.056,-3.06),(0.067,-2.45),(0.077,-2.32),(0.09,-2.22),(0.11,-1.92),(0.13,-1.74),(0.157,-1.56),(0.18,-1.48),(0.2,-1.51),(0.23,-1.48),(0.27,-1.65),(0.29,-1.56),(0.35,-1.74),(0.41,-1.83),(0.48,-2.36),(0.54,-1.48),(0.6,-1.83),(0.68,-1.56),(0.78,-1.48),(0.89,-1.56),(0.97,-1.92),(1.1,-1.83),(1.22,-2.27),(1.33,-2.09),(1.45,-2.71),(1.6,-2.53),(1.75,-3.24),(1.9,-2.98),(2.1,-3.77),(2.3,-4.12),(2.5,-3.95),(2.7,-4.65),(2.95,-5.18),(3.1,-4.83),(3.4,-5.27),(3.7,-5.36),(4.2,-5.53),(4.8,-5.62),(5.5,-5.62),(6.3,-5.7),(7.9,-5.74),(10.0,-5.89)]
o_3516_z = [(0.01,-4.26),(0.012,-4.12),(0.018,-4.17),(0.024,-4.03),(0.031,-3.86),(0.036,-3.77),(0.041,-3.86),(0.047,-3.59),(0.053,-3.77),(0.058,-3.28),(0.067,-3.15),(0.073,-3.24),(0.08,-2.89),(0.087,-2.71),(0.095,-2.09),(0.1,-1.92),(0.114,-1.79),(0.125,-1.39),(0.137,-1.16),(0.15,-1.3),(0.17,-1.44),(0.19,-1.39),(0.21,-1.65),(0.23,-2.0),(0.24,-1.48),(0.28,-1.74),(0.3,-1.48),(0.33,-2.0),(0.36,-1.65),(0.4,-1.92),(0.44,-1.56),(0.48,-1.48),(0.52,-1.65),(0.57,-2.27),(0.62,-1.48),(0.68,-1.83),(0.74,-2.45),(0.81,-1.65),(0.89,-1.48),(0.95,-2.0),
            (1.0,-2.4),(1.07,-1.85),(1.14,-2.49),(1.22,-2.19),(1.3,-2.94),(1.39,-2.59),(1.48,-3.18),(1.58,-2.87),(1.69,-3.52),(1.8,-3.06),(1.92,-3.66),(2.05,-3.26),(2.19,-4.2),(2.34,-3.8),(2.5,-4.35),(2.67,-3.9),(2.85,-4.49),(3.04,-4.09),(3.25,-4.99),(3.47,-4.58),(3.7,-5.43),(3.95,-4.82),(4.22,-5.42),(4.5,-5.01),(4.8,-5.81),(5.13,-5.56),(5.47,-6.25)]

blue = [[b_905_x, b_905_y, b_905_z],
        [b_3536_x, b_3536_y, b_3536_z],
        [b_3533_x, b_3533_y, b_3533_z],
        [b_3528_x, b_3528_y, b_3528_z],
        [b_3538_x, b_3538_y, b_3538_z],
        [b_3516_x, b_3516_y, b_3516_z]]
orange = [[o_905_x, o_905_y, o_905_z],
          [o_3536_x, o_3536_y, o_3536_z],
          [o_3533_x, o_3533_y, o_3533_z],
          [o_3528_x, o_3528_y, o_3528_z],
          [o_3538_x, o_3538_y, o_3538_z],
          [o_3516_x, o_3516_y, o_3516_z]]

# layout in pixels
W, H = 985, 875
col_left = [62, 329.5, 597]
row_top = [30 + 133 * i for i in range(len(stations))]
ax_w, ax_h = 258, 114

fig = plt.figure(figsize=(W / 100, H / 100), dpi=100)

for i, name in enumerate(stations):
    for j, comp in enumerate(components):
        ax = fig.add_axes([col_left[j] / W, 1 - (row_top[i] + ax_h) / H, ax_w / W, ax_h / H])
        b = np.array(blue[i][j])
        o = np.array(orange[i][j])
        ax.loglog(b[:, 0], 10 ** b[:, 1], color=BLUE, lw=1.8)
        ax.loglog(o[:, 0], 10 ** o[:, 1], color=ORANGE, lw=1.8)
        ax.set_xlim(1e-2, 1e1)
        ax.set_ylim(1e-6, 1)

        ax.set_xticks(x_ticks)
        ax.xaxis.set_minor_locator(LogLocator(base=10, subs=(2, 3, 4, 5, 6, 7, 8, 9)))
        ax.xaxis.set_minor_formatter(NullFormatter())
        ax.set_yticks(y_ticks)
        ax.yaxis.set_minor_locator(FixedLocator([1e-6, 1e-5, 1e-3, 1e-2, 1e0]))
        ax.yaxis.set_minor_formatter(NullFormatter())

        if j == 0:
            ax.set_yticklabels(y_tick_labels, fontfamily='Liberation Sans')
        else:
            ax.set_yticklabels([])
        if i == len(stations) - 1:
            labels = list(x_tick_labels)
            if j > 0:
                labels[0] = ''
            ax.set_xticklabels(labels, fontfamily='Liberation Sans')
        else:
            ax.set_xticklabels([])

        ax.tick_params(which='both', length=0, labelsize=13.5, colors='#262626')
        ax.tick_params(axis='y', pad=10)
        ax.tick_params(axis='x', pad=10)
        ax.set_axisbelow(True)
        ax.grid(which='major', color='#dedede', lw=0.7, ls='-')
        ax.grid(which='minor', color='#dedede', lw=0.7, ls=':')

        for side in ['top', 'right']:
            ax.spines[side].set_visible(False)
        ax.spines['left'].set_color('#404040' if j == 0 else '#e4e4e4')
        ax.spines['bottom'].set_color('#404040' if i == len(stations) - 1 else '#e4e4e4')
        ax.spines['left'].set_linewidth(0.8)
        ax.spines['bottom'].set_linewidth(0.8)

        if i == 0:
            fig.text((col_left[j] + ax_w / 2) / W, 1 - 14 / H, '$%s$-comp.' % comp,
                     ha='center', va='center', fontsize=15, family=SERIF,
                     math_fontfamily='cm')
        if i == len(stations) - 1:
            fig.text((col_left[j] + ax_w / 2) / W, 1 - 861 / H, 'freq.  [Hz]',
                     ha='center', va='center', fontsize=15, family=SERIF)

    fig.text(872 / W, 1 - (row_top[i] + 44) / H, name,
             ha='left', va='center', fontsize=15, family=SERIF)

fig.savefig('out.png', dpi=100)
